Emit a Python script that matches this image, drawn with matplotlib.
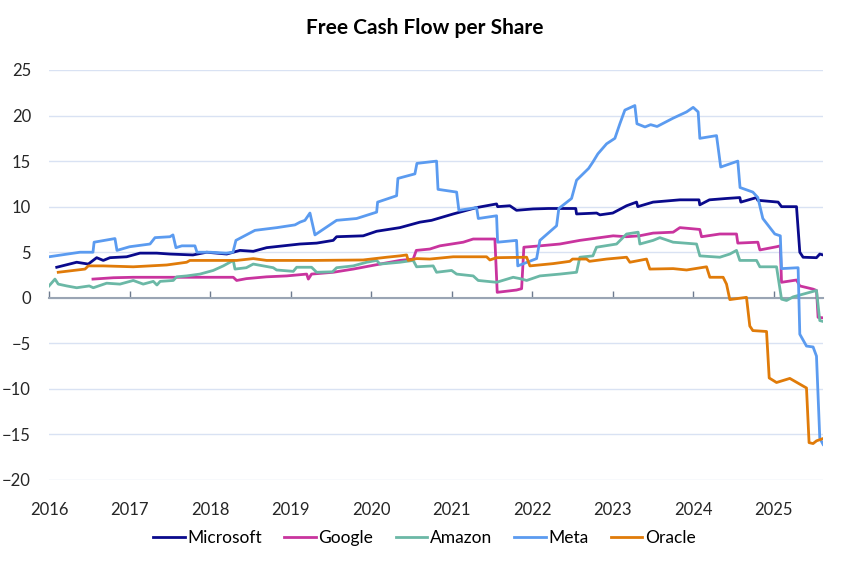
import matplotlib
matplotlib.use("Agg")
import matplotlib.pyplot as plt

plt.rcParams['font.family'] = ['Lato', 'DejaVu Sans']

# ---------------- data (decimal years, value) ----------------
msft_x = [2016.096, 2016.344, 2016.488, 2016.592, 2016.674, 2016.757, 2016.964, 2017.13, 2017.337, 2017.5,
          2017.787, 2017.958, 2018.206, 2018.371, 2018.536, 2018.702, 2018.908, 2019.116, 2019.323, 2019.529,
          2019.571, 2019.901, 2020.068, 2020.357, 2020.605, 2020.75, 2021.019, 2021.309, 2021.557, 2021.57,
          2021.722, 2021.805, 2022.012, 2022.2, 2022.54, 2022.55, 2022.80, 2022.84, 2023.0, 2023.171,
          2023.295, 2023.31, 2023.5, 2023.833, 2024.07, 2024.08, 2024.2, 2024.412, 2024.577, 2024.59,
          2024.785, 2024.8, 2025.053, 2025.095, 2025.281, 2025.322, 2025.363, 2025.529, 2025.57, 2025.611]
msft_y = [3.35, 3.9, 3.7, 4.4, 4.1, 4.4, 4.5, 4.9, 4.9, 4.8,
          4.7, 5.0, 4.8, 5.2, 5.1, 5.5, 5.7, 5.9, 6.0, 6.3,
          6.7, 6.8, 7.3, 7.7, 8.3, 8.5, 9.2, 9.9, 10.3, 10.0,
          10.1, 9.6, 9.75, 9.8, 9.8, 9.2, 9.3, 9.1, 9.3, 10.1,
          10.5, 10.0, 10.5, 10.75, 10.75, 10.2, 10.75, 10.9, 11.0, 10.5,
          11.0, 10.7, 10.5, 10.0, 10.0, 5.0, 4.45, 4.4, 4.8, 4.7]

goog_x = [2016.546, 2016.8, 2017.046, 2017.874, 2018.288, 2018.33, 2018.45, 2018.702, 2018.951, 2019.199,
          2019.22, 2019.26, 2019.529, 2019.777, 2020.109, 2020.357, 2020.522, 2020.56, 2020.729, 2020.853,
          2021.143, 2021.267, 2021.536, 2021.565, 2021.805, 2021.868, 2021.896, 2022.095, 2022.343, 2022.591,
          2022.84, 2023.005, 2023.17, 2023.33, 2023.501, 2023.75, 2023.833, 2024.08, 2024.102, 2024.329,
          2024.536, 2024.552, 2024.801, 2024.826, 2025.033, 2025.08, 2025.095, 2025.281, 2025.322, 2025.487,
          2025.53, 2025.549, 2025.611]
goog_y = [2.05, 2.2, 2.25, 2.25, 2.25, 1.9, 2.1, 2.3, 2.4, 2.6,
          2.05, 2.6, 2.8, 3.15, 3.7, 4.1, 4.25, 5.2, 5.35, 5.7,
          6.1, 6.45, 6.45, 0.6, 0.85, 1.0, 5.55, 5.7, 5.9, 6.3,
          6.6, 6.8, 6.7, 6.8, 7.1, 7.2, 7.7, 7.5, 6.7, 7.0,
          7.0, 6.0, 6.1, 5.25, 5.6, 5.7, 1.7, 1.95, 1.3, 0.95,
          0.8, -2.15, -2.2]

amzn_x = [2016.0, 2016.074, 2016.115, 2016.22, 2016.344, 2016.5, 2016.55, 2016.716, 2016.881, 2017.046,
          2017.17, 2017.295, 2017.34, 2017.38, 2017.543, 2017.585, 2017.709, 2017.874, 2018.039, 2018.164,
          2018.288, 2018.309, 2018.45, 2018.536, 2018.66, 2018.784, 2018.826, 2019.033, 2019.075, 2019.26,
          2019.323, 2019.52, 2019.571, 2019.777, 2019.944, 2020.068, 2020.11, 2020.357, 2020.522, 2020.564,
          2020.77, 2020.812, 2020.999, 2021.061, 2021.267, 2021.329, 2021.557, 2021.763, 2021.85, 2021.93,
          2022.095, 2022.343, 2022.55, 2022.591, 2022.753, 2022.798, 2023.047, 2023.171, 2023.315, 2023.336,
          2023.501, 2023.584, 2023.749, 2024.04, 2024.081, 2024.329, 2024.453, 2024.536, 2024.577, 2024.785,
          2024.826, 2025.033, 2025.095, 2025.157, 2025.239, 2025.529, 2025.57, 2025.611]
amzn_y = [1.3, 2.05, 1.5, 1.3, 1.1, 1.3, 1.1, 1.6, 1.5, 1.9,
          1.5, 1.8, 1.4, 1.8, 1.9, 2.3, 2.4, 2.6, 3.0, 3.5,
          4.1, 3.15, 3.3, 3.7, 3.5, 3.3, 3.05, 2.9, 3.35, 3.35,
          2.8, 2.85, 3.3, 3.5, 3.9, 4.1, 3.7, 3.9, 4.1, 3.4,
          3.5, 2.8, 3.0, 2.6, 2.4, 1.9, 1.7, 2.25, 2.1, 1.9,
          2.4, 2.6, 2.8, 4.45, 4.6, 5.55, 5.9, 7.0, 7.2, 5.9,
          6.3, 6.6, 6.1, 5.9, 4.6, 4.45, 4.8, 5.2, 4.1, 4.1,
          3.4, 3.4, -0.15, -0.3, 0.1, 0.8, -2.5, -2.6]

meta_x = [2016.0, 2016.385, 2016.546, 2016.56, 2016.819, 2016.844, 2017.0, 2017.254, 2017.316, 2017.502,
          2017.539, 2017.576, 2017.65, 2017.812, 2017.837, 2018.0, 2018.2, 2018.284, 2018.321, 2018.557,
          2018.83, 2019.054, 2019.116, 2019.178, 2019.24, 2019.302, 2019.571, 2019.819, 2020.068, 2020.08,
          2020.316, 2020.332, 2020.543, 2020.568, 2020.812, 2020.83, 2021.061, 2021.089, 2021.309, 2021.33,
          2021.557, 2021.57, 2021.805, 2021.82, 2022.054, 2022.095, 2022.302, 2022.33, 2022.488, 2022.55,
          2022.7, 2022.753, 2022.815, 2022.923, 2023.026, 2023.088, 2023.15, 2023.274, 2023.3, 2023.4,
          2023.47, 2023.55, 2023.746, 2023.916, 2023.998, 2024.06, 2024.081, 2024.288, 2024.34, 2024.552,
          2024.58, 2024.739, 2024.801, 2024.863, 2025.012, 2025.08, 2025.095, 2025.301, 2025.322, 2025.405,
          2025.487, 2025.529, 2025.57, 2025.611]
meta_y = [4.5, 5.0, 5.0, 6.1, 6.5, 5.2, 5.6, 5.9, 6.6, 6.7,
          6.9, 5.5, 5.7, 5.7, 5.0, 5.0, 4.9, 5.0, 6.3, 7.4,
          7.7, 8.0, 8.3, 8.5, 9.3, 6.9, 8.5, 8.7, 9.4, 10.5,
          11.2, 13.1, 13.6, 14.75, 15.0, 11.9, 11.6, 9.6, 9.9, 8.7,
          9.0, 6.1, 6.3, 3.5, 4.3, 6.3, 7.9, 9.8, 10.9, 12.9,
          14.2, 14.9, 15.8, 16.9, 17.5, 19.1, 20.6, 21.1, 19.1, 18.75,
          19.0, 18.8, 19.7, 20.4, 20.9, 20.4, 17.5, 17.8, 14.35, 15.0,
          12.1, 11.6, 11.0, 8.7, 7.0, 6.8, 3.2, 3.3, -4.0, -5.3,
          -5.4, -6.4, -15.4, -16.1]

orcl_x = [2016.115, 2016.447, 2016.488, 2016.674, 2017.046, 2017.461, 2017.709, 2017.75, 2018.33, 2018.536,
          2018.702, 2019.3, 2019.9, 2020.192, 2020.357, 2020.44, 2020.46, 2020.564, 2020.729, 2021.019,
          2021.433, 2021.474, 2021.557, 2021.93, 2021.971, 2022.26, 2022.467, 2022.5, 2022.674, 2022.71,
          2022.923, 2023.171, 2023.212, 2023.419, 2023.46, 2023.75, 2023.916, 2024.164, 2024.205, 2024.37,
          2024.412, 2024.453, 2024.66, 2024.701, 2024.739, 2024.909, 2024.942, 2025.033, 2025.198, 2025.405,
          2025.437, 2025.487, 2025.53, 2025.611]
orcl_y = [2.8, 3.15, 3.5, 3.5, 3.4, 3.6, 3.9, 4.1, 4.1, 4.3,
          4.1, 4.1, 4.15, 4.45, 4.6, 4.7, 4.1, 4.3, 4.25, 4.5,
          4.5, 4.15, 4.4, 4.45, 3.5, 3.75, 4.0, 4.25, 4.25, 4.0,
          4.25, 4.45, 3.9, 4.25, 3.15, 3.2, 3.05, 3.4, 2.25, 2.25,
          1.5, -0.2, 0.05, -3.1, -3.6, -3.7, -8.8, -9.3, -8.85, -9.9,
          -15.9, -16.0, -15.7, -15.45]

series = [
    ("Microsoft", msft_x, msft_y, "#0A0A8C"),
    ("Google", goog_x, goog_y, "#C9349E"),
    ("Amazon", amzn_x, amzn_y, "#6BB8A6"),
    ("Meta", meta_x, meta_y, "#5B9BF0"),
    ("Oracle", orcl_x, orcl_y, "#E07B09"),
]

year_ticks = list(range(2016, 2026))
y_ticks = list(range(-20, 30, 5))

# ---------------- figure ----------------
fig = plt.figure(figsize=(8.49, 5.64), dpi=100)
ax = fig.add_axes([49/849, 1-480/564, (823-49)/849, (480-70)/564])

for name, xs, ys, col in series:
    ax.plot(xs, ys, color=col, lw=2.0, label=name, solid_joinstyle='round', zorder=3)

ax.set_xlim(2016, 2025.61)
ax.set_ylim(-20, 25)
ax.set_yticks(y_ticks)
ax.yaxis.grid(True, color="#D9E2F3", lw=1.0)
ax.set_axisbelow(True)
for s in ['top', 'right', 'left']:
    ax.spines[s].set_visible(False)
ax.spines['bottom'].set_position(('data', 0))
ax.spines['bottom'].set_color("#9AA5B4")
ax.spines['bottom'].set_linewidth(1.5)
ax.spines['bottom'].set_zorder(2)
ax.set_xticks(year_ticks)
ax.tick_params(axis='x', direction='in', length=5, width=1.0, color="#6E7B8F", labelbottom=False)
ax.tick_params(axis='y', length=0, pad=13, labelsize=12, labelcolor="#262626")

sec = ax.secondary_xaxis(location=0)
sec.set_xticks(year_ticks)
sec.set_xticklabels([str(y) for y in year_ticks])
sec.tick_params(axis='x', length=0, pad=16, labelsize=12, labelcolor="#262626")
for s in sec.spines.values():
    s.set_visible(False)

fig.text(0.5, 1-28/564, "Free Cash Flow per Share", ha='center', va='center',
         fontsize=15, fontweight='bold', color="#000000")

fig.legend(loc='center', bbox_to_anchor=(0.5, 1-538/564), ncol=5, frameon=False,
           fontsize=12.5, handlelength=1.8, columnspacing=1.3, handletextpad=0.15)

fig.savefig("out.png", dpi=100)
